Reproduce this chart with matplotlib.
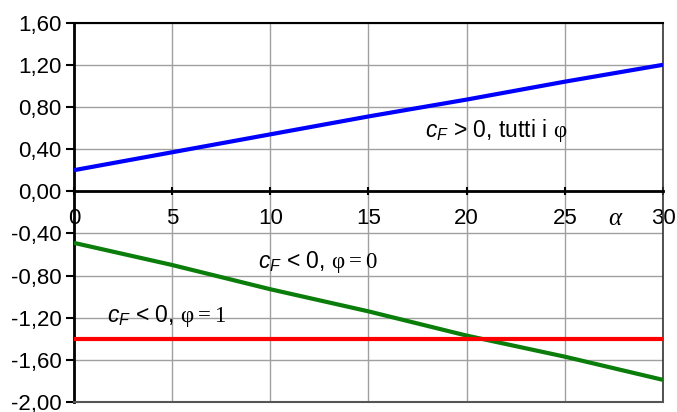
import matplotlib
matplotlib.use("Agg")
import matplotlib.pyplot as plt
import numpy as np

plt.rcParams['font.family'] = ['Liberation Sans', 'DejaVu Sans']
plt.rcParams['mathtext.fontset'] = 'custom'
plt.rcParams['mathtext.rm'] = 'Liberation Serif'
plt.rcParams['mathtext.it'] = 'Liberation Sans:italic'
plt.rcParams['mathtext.sf'] = 'Liberation Sans'

# data
alpha = [0, 5, 10, 15, 20, 25, 30]
cf_pos = [0.20, 0.37, 0.54, 0.71, 0.87, 1.04, 1.20]
cf_neg_phi0 = [-0.49, -0.70, -0.93, -1.14, -1.37, -1.57, -1.79]
cf_neg_phi1 = [-1.40, -1.40, -1.40, -1.40, -1.40, -1.40, -1.40]
x_ticks = [0, 5, 10, 15, 20, 25, 30]
y_ticks = [-2.0, -1.6, -1.2, -0.8, -0.4, 0.0, 0.4, 0.8, 1.2, 1.6]
y_tick_labels = [f"{v:.2f}".replace('.', ',') for v in y_ticks]

fig = plt.figure(figsize=(6.77, 4.12), dpi=100)
ax = fig.add_axes([0.1093, 0.0243, 0.9793 - 0.1093, 0.945 - 0.0243])

ax.set_xlim(0, 30)
ax.set_ylim(-2.0, 1.6)
ax.set_xticks(x_ticks)
ax.set_yticks(y_ticks)
ax.set_yticklabels(y_tick_labels)
ax.grid(True, color='#a0a0a0', lw=1.0)
ax.set_axisbelow(True)

ax.plot(alpha, cf_pos, color='#0000ff', lw=3, solid_capstyle='butt', zorder=3)
ax.plot(alpha, cf_neg_phi0, color='#0a7d0a', lw=3, solid_capstyle='butt', zorder=3)
ax.plot(alpha, cf_neg_phi1, color='#ff0000', lw=3, solid_capstyle='butt', zorder=3)

ax.spines['bottom'].set_position(('data', 0))
ax.spines['bottom'].set_linewidth(2)
ax.spines['bottom'].set_zorder(4)
ax.spines['left'].set_linewidth(2)
ax.spines['top'].set_linewidth(1.5)
ax.spines['right'].set_color('#333333')
ax.spines['right'].set_linewidth(1.2)
ax.axhline(-2.0, color='#555555', lw=1.5, clip_on=False, zorder=4)

ax.tick_params(axis='x', direction='inout', length=6, width=1.5, pad=9, labelsize=16)
ax.tick_params(axis='y', direction='out', length=6, width=1.5, pad=3, labelsize=16)

ax.text(17.88, 0.58, r"$c_F$ > 0, tutti i $\mathrm{φ}$", fontsize=16.5, va='center', ha='left')
ax.text(9.37, -0.67, r"$c_F$ < 0, $\mathrm{φ = 0}$", fontsize=16.5, va='center', ha='left')
ax.text(1.68, -1.18, r"$c_F$ < 0, $\mathrm{φ = 1}$", fontsize=16.5, va='center', ha='left')
ax.text(27.55, -0.26, "α", fontsize=18, fontfamily='Liberation Serif', style='italic',
        va='center', ha='center')

fig.savefig("out.png", dpi=100)
